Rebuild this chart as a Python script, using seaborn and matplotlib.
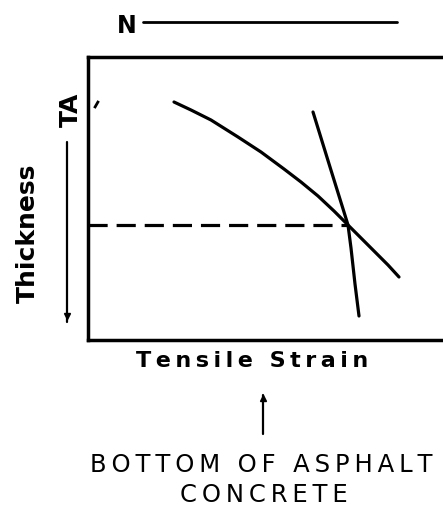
import numpy as np
import seaborn as sns
import matplotlib.pyplot as plt
import pandas as pd

# schematic curves (x = strain, y = height above bottom)
fatigue_x = [86, 103, 123, 150, 173, 196, 213, 230, 246, 260, 275, 288, 300, 311]
fatigue_y = [238, 230, 220, 203, 188, 171, 158, 144, 129, 115, 100, 87, 75, 63]
strain_x = [225, 242, 256, 260, 263, 267, 271]
strain_y = [228, 173, 128, 115, 92, 56, 24]
design_y = 115

sns.set_theme(style="white")
plt.rcParams['font.family'] = ['DejaVu Sans']
plt.rcParams['text.color'] = 'black'

fig = plt.figure(figsize=(4.43, 5.24), dpi=100)
ax = fig.add_axes([88 / 443, 184 / 524, 370 / 443, 283 / 524])

df1 = pd.DataFrame({"x": fatigue_x, "y": fatigue_y})
df2 = pd.DataFrame({"x": strain_x, "y": strain_y})
sns.lineplot(data=df1, x="x", y="y", ax=ax, color="black", lw=2.3, sort=False)
sns.lineplot(data=df2, x="x", y="y", ax=ax, color="black", lw=2.3, sort=False)
ax.plot([0, 260], [design_y, design_y], color="black", lw=2.3, ls=(0, (6, 2.8)))
ax.plot([8], [236], marker=(2, 0, -30), ms=6, mew=2, color="black")

ax.set_xlim(0, 370)
ax.set_ylim(0, 283)
ax.set_xticks([])
ax.set_yticks([])
ax.set_xlabel("")
ax.set_ylabel("")
for s in ["left", "top", "bottom"]:
    ax.spines[s].set_color("black")
    ax.spines[s].set_linewidth(2.5)
ax.spines["right"].set_visible(False)

def fx(px):
    return px / 443

def fy(py):
    return 1 - py / 524

def spaced(s):
    return "\u2009".join(s)

fig.text(fx(127), fy(33), "N", ha="center", va="baseline", fontsize=17, fontweight="bold")
fig.add_artist(plt.Line2D([fx(143), fx(397)], [fy(22), fy(22)], color="black", lw=2))
fig.text(fx(71), fy(110), "TA", ha="center", va="center", fontsize=18, fontweight="bold", rotation=90)
fig.text(fx(28), fy(233), "Thickness", ha="center", va="center", fontsize=18, fontweight="bold", rotation=90)
fig.add_artist(plt.Line2D([fx(67), fx(67)], [fy(142), fy(322)], color="black", lw=1.6))
fig.add_artist(plt.Line2D([fx(67)], [fy(316)], marker="v", ms=5, color="black"))
fig.text(fx(252), fy(367), spaced("Tensile Strain"), ha="center", va="baseline", fontsize=16, fontweight="bold")
fig.add_artist(plt.Line2D([fx(263), fx(263)], [fy(395), fy(434)], color="black", lw=1.6))
fig.add_artist(plt.Line2D([fx(263)], [fy(398)], marker="^", ms=5, color="black"))
fig.text(fx(261), fy(472), spaced("BOTTOM OF ASPHALT"), ha="center", va="baseline", fontsize=17.5)
fig.text(fx(264), fy(502), spaced("CONCRETE"), ha="center", va="baseline", fontsize=17.5)

fig.savefig("out.png", dpi=100)
